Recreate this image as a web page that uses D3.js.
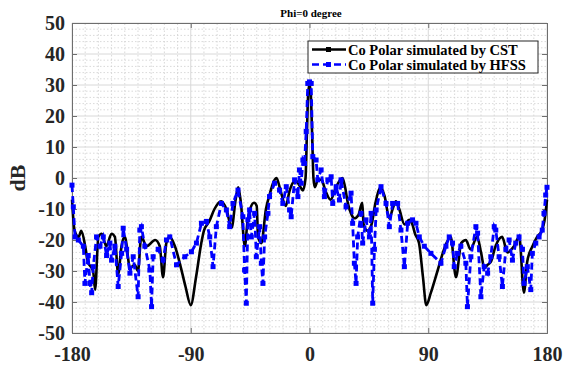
<!DOCTYPE html>
<html>
<head>
<meta charset="utf-8">
<script src="https://cdn.jsdelivr.net/npm/d3@7"></script>
<style>
  html, body { margin: 0; padding: 0; background: #fff; }
  svg { display: block; font-family: "Liberation Serif", "Times New Roman", serif; }
</style>
</head>
<body>
<div id="chart"></div>
<script>
// Angles (degree) and gain (dB)
const cstAngle = [-180,-178,-175,-173,-170,-168,-164,-162.5,-160,-157.5,-154,-150,-147.5,-145,-142.5,-140,-136,-132.5,-130,-127.5,-123.5,-117,-113.5,-111,-108.5,-106,-102,-98,-94,-90,-86,-82,-80,-76,-72,-67,-63,-59,-56,-54,-52,-49,-47,-45,-42,-40,-39,-36.5,-33,-30,-27,-25,-22,-18,-15,-12.5,-10,-7.5,-5,-3,-2,-1,0,1,2,3,4,6,9,12,16,20,25,27,29,32,34,37,40,41,44,47,50,54,57,60.5,63,65.5,68,72,75.5,78,80,83,86,88.5,92,97,102,107,111,115,118.5,122,127,130,132.5,135,137.5,141,146,150,155,159,162.5,165,169,172.5,176,178,180];
const cstDb = [-7,-17,-19,-17,-22,-27,-30,-36,-19,-18,-22,-18,-19,-31,-22,-19,-29,-28,-30,-19,-22,-20,-22,-32,-21,-19,-22,-28,-35,-41,-32,-21,-17,-14,-10,-7.5,-10,-16,-7,-3,-8,-22,-14,-10,-8,-9,-19,-21,-10,-5,-1,0,-4,-9,-4,-1.5,-1,-2.5,-4,0,14,27,30.5,27,14,0,-3,-1,-0.5,-4,-7,-3,0,-3,-8,-12,-13,-12,-8,-15,-17,-15,-8,-3,-6,-13,-10,-7.5,-10,-15,-13.5,-15,-18,-21,-32,-41,-37,-30,-23,-19,-32,-21,-20,-23,-19,-24,-29,-28,-27,-22,-19,-24,-22,-19,-37,-27,-22,-19,-17,-14,-7];

const hfssAngle = [-180,-179,-177.7,-175.2,-171.4,-170.2,-167.7,-166.4,-165.1,-163.9,-161.4,-158.8,-156.3,-153.8,-151.3,-150,-147.5,-145,-142.4,-141.2,-138.6,-136.1,-133.6,-129.9,-128.6,-127.4,-124.8,-121,-119.7,-118.5,-114.7,-111,-108.4,-105.9,-100.8,-94.5,-89.5,-85.7,-81.9,-78.1,-75.6,-73.1,-70.6,-66.8,-63,-60.5,-58,-54.2,-50.5,-49.2,-47.9,-46.7,-45.4,-44.1,-41.6,-40.3,-37.8,-36.5,-35.3,-34,-31.5,-30.3,-26.5,-22.7,-20.2,-17.6,-15.1,-13.9,-11.3,-8.8,-7.6,-6.3,-5,-3.8,-2.5,-1.3,0,1.3,2.5,5,6.3,8.8,11.3,13.9,16.4,17.6,20.2,22.7,23.9,27.7,31.5,32.7,34,35.3,36.5,39,40.3,42.8,45.4,46.7,47.9,49.2,50.5,54.2,58,60.5,63,66.8,69.3,71.9,74.4,78.1,80.7,83.2,87,92,99.6,103.4,105.9,108.4,109.7,112.2,114.7,118.5,119.7,122.3,126.1,127.4,129.9,132.4,135,137.4,140,141.2,143.7,146.2,148.8,151.3,153.8,156.3,158.8,161.4,162.6,165.1,167.7,168.9,171.5,174,176.4,177.7,179,180];
const hfssDb = [-2.3,-9.3,-19,-20,-22,-34,-25,-34,-37,-28.6,-19,-22,-19,-25,-21,-26.5,-22,-35,-24.3,-16.2,-23,-30.7,-25.4,-38.3,-16.8,-15.7,-22,-29.7,-41.5,-25.4,-23,-26.5,-20,-19,-28,-25.4,-23.8,-21,-14.6,-14,-19,-28.6,-15.7,-8.2,-10.3,-15.7,-8.2,-3.9,-12.5,-29.7,-40.4,-13.5,-10.3,-19,-11.4,-25.4,-15.7,-27.5,-34,-19,-11.4,-6,-1.7,-3.9,-8.2,-2.8,-10.3,-12.5,-0.6,-6,2.6,-1.7,5.8,4.7,15,30.5,31,30.5,6.9,5.8,-0.6,2.6,-6,-0.6,0.4,-8.2,-2.8,-7.1,-0.6,-9.3,-4.9,-14.6,-27.5,-34,-19,-11.4,-21,-13.5,-19,-11.4,-40.4,-23,-10.3,-2.8,-8.2,-15.7,-8.2,-8.2,-16.8,-28.6,-14.6,-13.5,-14.6,-19,-22,-24.3,-27.5,-22,-19,-21,-28.6,-24.3,-22,-27.5,-41.5,-25.4,-15.7,-17.8,-38.3,-28.6,-30.7,-25.4,-15.7,-16.8,-25.4,-35,-23,-20,-26.5,-21,-19,-23,-34,-28.6,-36,-24.3,-21,-19,-16.8,-11.4,-5.5,-3];

const xTicks = [-180, -90, 0, 90, 180];
const yTicks = [-50, -40, -30, -20, -10, 0, 10, 20, 30, 40, 50];
const seriesNames = ["Co Polar simulated by CST", "Co Polar simulated by HFSS"];

document.addEventListener('DOMContentLoaded', () => {
    const width = 569, height = 370;
    const m = { left: 72, right: 22, top: 23, bottom: 37 };
    const serif = '"Liberation Serif", "Times New Roman", serif';

    const svg = d3.select('#chart').append('svg')
        .attr('width', width)
        .attr('height', height);

    const x = d3.scaleLinear().domain([-180, 180]).range([m.left, width - m.right]);
    const y = d3.scaleLinear().domain([-50, 50]).range([height - m.bottom, m.top]);

    // minor grid (dotted)
    const g = svg.append('g');
    g.selectAll('.minx').data(d3.range(-170, 180, 10).filter(v => v % 90 !== 0))
        .enter().append('line')
        .attr('x1', d => x(d)).attr('x2', d => x(d))
        .attr('y1', y(-50)).attr('y2', y(50))
        .attr('stroke', '#cfcfcf').attr('stroke-width', 0.8).attr('stroke-dasharray', '1.5,2');
    g.selectAll('.miny').data(d3.range(-48, 50, 2).filter(v => v % 10 !== 0))
        .enter().append('line')
        .attr('x1', x(-180)).attr('x2', x(180))
        .attr('y1', d => y(d)).attr('y2', d => y(d))
        .attr('stroke', '#cfcfcf').attr('stroke-width', 0.8).attr('stroke-dasharray', '1.5,2');

    // major grid
    g.selectAll('.majx').data(xTicks).enter().append('line')
        .attr('x1', d => x(d)).attr('x2', d => x(d))
        .attr('y1', y(-50)).attr('y2', y(50))
        .attr('stroke', '#d8d8d8').attr('stroke-width', 1);
    g.selectAll('.majy').data(yTicks).enter().append('line')
        .attr('x1', x(-180)).attr('x2', x(180))
        .attr('y1', d => y(d)).attr('y2', d => y(d))
        .attr('stroke', '#d8d8d8').attr('stroke-width', 1);

    // axes with inward ticks, box on all sides
    const fmt = d => d3.format('d')(d).replace('\u2212', '-');
    const axB = svg.append('g').attr('transform', `translate(0,${y(-50)})`)
        .call(d3.axisBottom(x).tickValues(xTicks).tickSize(-5).tickPadding(14).tickFormat(fmt));
    const axL = svg.append('g').attr('transform', `translate(${x(-180)},0)`)
        .call(d3.axisLeft(y).tickValues(yTicks).tickSize(-5).tickPadding(7).tickFormat(fmt));
    svg.append('g').attr('transform', `translate(0,${y(50)})`)
        .call(d3.axisTop(x).tickValues(xTicks).tickSize(-5).tickFormat(''));
    svg.append('g').attr('transform', `translate(${x(180)},0)`)
        .call(d3.axisRight(y).tickValues(yTicks).tickSize(-5).tickFormat(''));
    svg.selectAll('.domain, .tick line').attr('stroke', '#6e6e6e');
    [axB, axL].forEach(a => {
        a.attr('font-family', serif).attr('font-size', 20).attr('font-weight', 'bold');
        a.selectAll('text').attr('fill', '#262626');
    });

    // series
    const cst = cstAngle.map((a, i) => [a, cstDb[i]]);
    const hfss = hfssAngle.map((a, i) => [a, hfssDb[i]]);

    const plot = svg.append('g');
    plot.append('path').datum(cst)
        .attr('fill', 'none').attr('stroke', '#000').attr('stroke-width', 2.6)
        .attr('stroke-linejoin', 'round')
        .attr('d', d3.line().x(d => x(d[0])).y(d => y(d[1])).curve(d3.curveMonotoneX));

    plot.append('path').datum(hfss)
        .attr('fill', 'none').attr('stroke', '#0000ff').attr('stroke-width', 2.8)
        .attr('stroke-dasharray', '7,4')
        .attr('d', d3.line().x(d => x(d[0])).y(d => y(d[1])));
    plot.selectAll('.mk').data(hfss).enter().append('rect')
        .attr('x', d => x(d[0]) - 2.5).attr('y', d => y(d[1]) - 2.5)
        .attr('width', 5).attr('height', 5)
        .attr('fill', '#0000ff');

    // title and y label
    svg.append('text').attr('x', 311).attr('y', 17).attr('text-anchor', 'middle')
        .attr('font-family', serif)
        .style('font-size', '11px').style('font-weight', 'bold').attr('fill', '#000')
        .text('Phi=0 degree');
    svg.append('text').attr('transform', `translate(25,${y(0)}) rotate(-90)`)
        .attr('text-anchor', 'middle').attr('font-family', serif)
        .style('font-size', '22px').style('font-weight', 'bold').attr('fill', '#262626')
        .text('dB');

    // legend
    const lg = svg.append('g').attr('font-family', serif);
    lg.append('rect').attr('x', 308).attr('y', 41).attr('width', 230).attr('height', 32)
        .attr('fill', '#fff').attr('stroke', '#262626').attr('stroke-width', 1);
    const rows = [
        { name: seriesNames[0], color: '#000', dash: null, yy: 49.5 },
        { name: seriesNames[1], color: '#0000ff', dash: '7,4', yy: 64.5 }
    ];
    rows.forEach(r => {
        lg.append('line').attr('x1', 312).attr('x2', 346).attr('y1', r.yy).attr('y2', r.yy)
            .attr('stroke', r.color).attr('stroke-width', 2.6)
            .attr('stroke-dasharray', r.dash);
        lg.append('rect').attr('x', 326).attr('y', r.yy - 2.5).attr('width', 5).attr('height', 5)
            .attr('fill', r.color);
        lg.append('text').attr('x', 348).attr('y', r.yy + 5)
            .style('font-size', '14.5px').style('font-weight', 'bold').attr('fill', '#000')
            .text(r.name);
    });
});
</script>
</body>
</html>
